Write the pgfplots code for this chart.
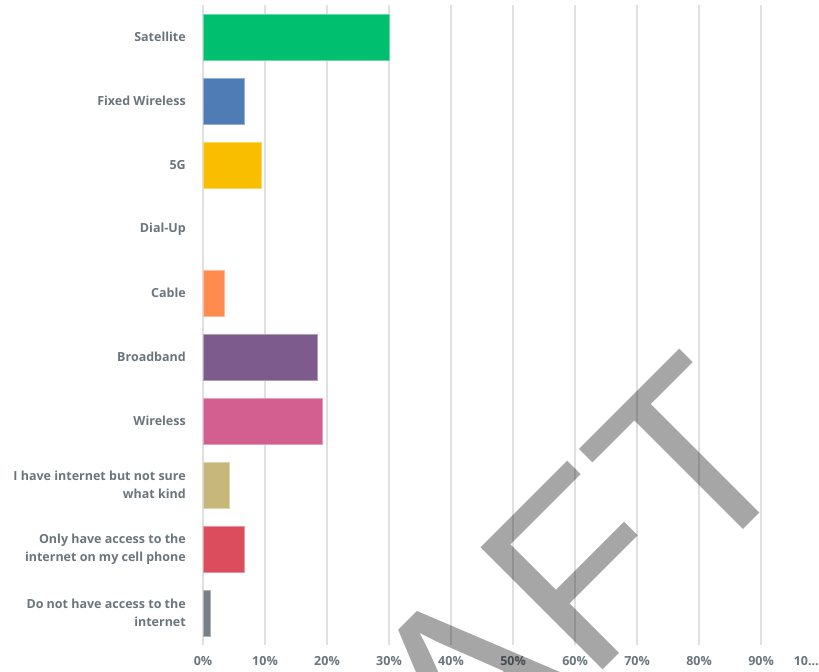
\documentclass[border=0pt]{standalone}
\usepackage{fontspec}
\setmainfont{Open Sans}
\newfontfamily\wmfont{Liberation Sans}
\usepackage{pgfplots}
\pgfplotsset{compat=1.18}
\definecolor{lab}{HTML}{6A757C}
\definecolor{cSat}{HTML}{00BF6F}
\definecolor{cFix}{HTML}{507CB6}
\definecolor{cFiveG}{HTML}{F9BE00}
\definecolor{cCab}{HTML}{FF8B4F}
\definecolor{cBro}{HTML}{7D5B8C}
\definecolor{cWir}{HTML}{D25F90}
\definecolor{cNot}{HTML}{C8B77A}
\definecolor{cCel}{HTML}{DB4D5C}
\definecolor{cNo}{HTML}{768086}
\begin{document}
\begin{tikzpicture}
\begin{axis}[name=ax, scale only axis, width=616bp, height=640bp,
  xbar, bar width=46bp, bar shift=0pt,
  xmin=0, xmax=99.35, ymin=-0.5, ymax=9.5, y dir=reverse,
  axis line style={draw=none}, major tick length=0pt,
  xmajorgrids, grid style={draw=black!12, line width=1.2bp},
  xtick={0,10,20,30,40,50,60,70,80,90},
  xticklabels={0\%,10\%,20\%,30\%,40\%,50\%,60\%,70\%,80\%,90\%},
  extra x ticks={97.3}, extra x tick labels={{10.\kern0pt.\kern0pt.}},
  extra x tick style={xmajorgrids=false},
  xticklabel style={font=\bfseries\fontsize{12.5bp}{14bp}\selectfont, text=lab, inner sep=0pt, yshift=-11bp},
  ytick={0,1,2,3,4,5,6,7,8,9},
  yticklabels={Satellite, Fixed Wireless, 5G, Dial-Up, Cable, Broadband, Wireless,
    {I have internet but not sure\\what kind},
    {Only have access to the\\internet on my cell phone},
    {Do not have access to the\\internet}},
  yticklabel style={align=right, font=\bfseries\fontsize{12.5bp}{18bp}\selectfont, text=lab, inner sep=0pt, xshift=-17bp},
]
\addplot[fill=cSat, draw=cSat!60!white, line width=0.8bp] coordinates {(30.0,0)};
\addplot[fill=cFix, draw=cFix!60!white, line width=0.8bp] coordinates {(6.67,1)};
\addplot[fill=cFiveG, draw=cFiveG!60!white, line width=0.8bp] coordinates {(9.46,2)};
\addplot[fill=white, draw=none] coordinates {(0,3)};
\addplot[fill=cCab, draw=cCab!60!white, line width=0.8bp] coordinates {(3.44,4)};
\addplot[fill=cBro, draw=cBro!60!white, line width=0.8bp] coordinates {(18.4,5)};
\addplot[fill=cWir, draw=cWir!60!white, line width=0.8bp] coordinates {(19.3,6)};
\addplot[fill=cNot, draw=cNot!60!white, line width=0.8bp] coordinates {(4.25,7)};
\addplot[fill=cCel, draw=cCel!60!white, line width=0.8bp] coordinates {(6.67,8)};
\addplot[fill=cNo, draw=cNo!60!white, line width=0.8bp] coordinates {(1.24,9)};
\end{axis}
\node[rotate=45, anchor=base, opacity=0.35, inner sep=0pt,
  font=\wmfont\fontsize{251bp}{251bp}\selectfont]
  at ([xshift=307bp,yshift=-118bp]ax.south west) {DRAFT};
\pgfresetboundingbox
\path ([xshift=-203bp,yshift=-27bp]ax.south west) rectangle ([yshift=5bp]ax.north east);
\end{tikzpicture}
\end{document}
